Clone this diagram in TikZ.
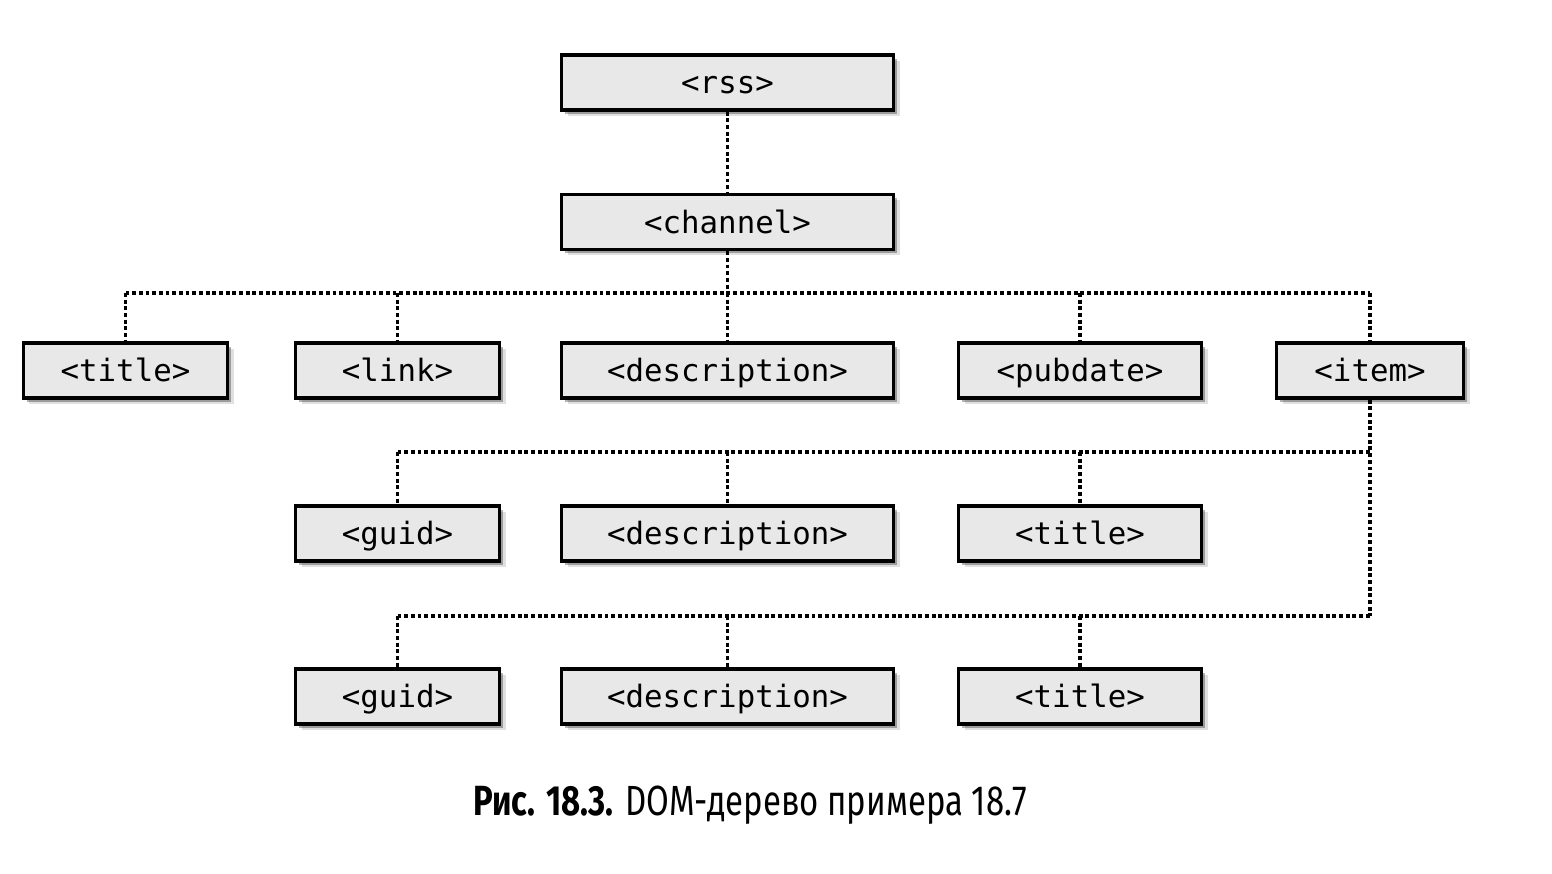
\documentclass[tikz,border=0pt]{standalone}
\usepackage{fontspec}
\setmonofont{DejaVu Sans Mono}
\newfontfamily\capfont[FakeStretch=0.78]{Fira Sans}
\usepackage{xcolor}
\usetikzlibrary{shadows}
\definecolor{boxgray}{HTML}{E8E8E8}

\begin{document}
\begin{tikzpicture}[
    tag/.style={rectangle, draw=black, line width=2pt, fill=boxgray, minimum height=1.1cm, align=center,
        text height=13.5pt, text depth=0.5pt,
        font=\fontsize{17.5}{20}\selectfont\ttfamily,
        drop shadow={shadow xshift=0.12cm, shadow yshift=-0.12cm, fill=black, opacity=0.12},
        drop shadow={shadow xshift=0.07cm, shadow yshift=-0.08cm, fill=black, opacity=0.3}},
    link/.style={line width=1.8pt, dash pattern=on 2.2pt off 1.6pt}
]
\useasboundingbox (0,0) rectangle (31.04,17.46);

% Root
\node[tag, minimum width=6.64cm] (rss) at (14.55,15.81) {<rss>};
\node[tag, minimum width=6.64cm] (channel) at (14.55,13.02) {<channel>};

% Children of channel
\node[tag, minimum width=4.08cm] (title) at (2.51,10.05) {<title>};
\node[tag, minimum width=4.08cm] (link) at (7.95,10.05) {<link>};
\node[tag, minimum width=6.64cm] (descr) at (14.55,10.05) {<description>};
\node[tag, minimum width=4.86cm] (pubdate) at (21.6,10.05) {<pubdate>};
\node[tag, minimum width=3.74cm] (item) at (27.4,10.05) {<item>};

% Children of item
\node[tag, minimum width=4.08cm] (guidA) at (7.95,6.79) {<guid>};
\node[tag, minimum width=6.64cm] (descrA) at (14.55,6.79) {<description>};
\node[tag, minimum width=4.86cm] (titleA) at (21.6,6.79) {<title>};

\node[tag, minimum width=4.08cm] (guidB) at (7.95,3.53) {<guid>};
\node[tag, minimum width=6.64cm] (descrB) at (14.55,3.53) {<description>};
\node[tag, minimum width=4.86cm] (titleB) at (21.6,3.53) {<title>};

% Bus lines
\coordinate (bus1) at (14.55,11.6);
\coordinate (bus2) at (27.4,8.42);
\coordinate (bus3) at (27.4,5.14);

% Connections
\draw[link] (rss.south) -- (channel.north);
\draw[link] (channel.south) -- (bus1);
\draw[link] (title.north |- bus1) -- (item.north |- bus1);
\foreach \c in {title,link,descr,pubdate,item}
    \draw[link] (\c.north |- bus1) -- (\c.north);

\draw[link] (item.south) -- (bus3);
\draw[link] (guidA.north |- bus2) -- (bus2);
\draw[link] (guidB.north |- bus3) -- (bus3);
\foreach \c in {guidA,descrA,titleA}
    \draw[link] (\c.north |- bus2) -- (\c.north);
\foreach \c in {guidB,descrB,titleB}
    \draw[link] (\c.north |- bus3) -- (\c.north);

% Caption
\node[font=\capfont\fontsize{24}{28}\selectfont] (caption) at (15.0,1.36) {\textbf{Рис. 18.3.} DOM-дерево примера 18.7};

\end{tikzpicture}
\end{document}
